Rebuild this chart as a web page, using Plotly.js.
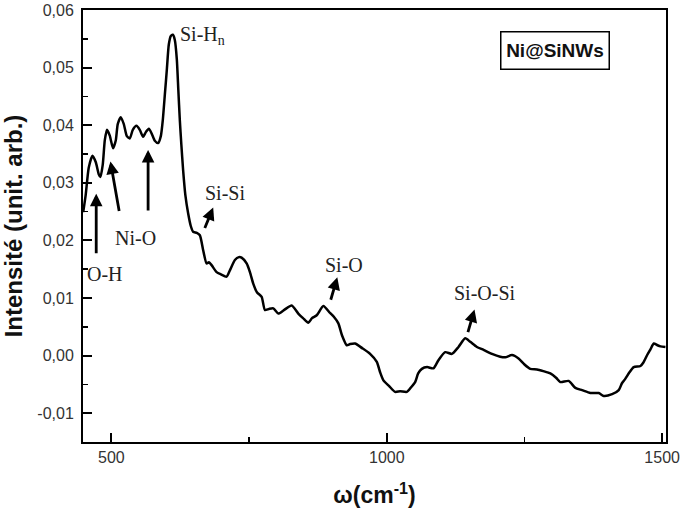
<!DOCTYPE html>
<html>
<head>
<meta charset="utf-8">
<script src="https://cdn.plot.ly/plotly-3.0.1.min.js"></script>
<style>html,body{margin:0;padding:0;background:#fff;}#chart{width:685px;height:515px;}</style>
</head>
<body>
<div id="chart"></div>
<script>
// Wavenumber (cm^-1)
const wavenumber = [448.8,453.3,458.8,465.5,471.5,477,480,484.2,488,492,497,503,508,511.5,517,522.5,528,533.3,538.8,545.5,551.5,557.5,562.5,567.9,573.3,578.8,584.8,589.7,593.3,597,600.6,604.2,607.9,611.5,615.1,618.8,621.5,624.2,627,630.2,634.2,639.3,644.1,648.4,655,660.6,666.6,672.8,677,681.9,691,698.9,709.1,715.1,724.2,731.5,736.4,745.5,751.5,757.5,764.2,772.8,778.8,786.1,793.9,803,813.3,827.3,839.3,847.9,857.5,864.2,872.8,884.8,897,904.2,912.1,918.8,927.4,933.4,942.4,955.2,969.7,981.9,987.9,993.9,1004.3,1015.1,1024.2,1036.4,1044.2,1051.5,1057,1063.7,1073.3,1084.8,1093.8,1106,1118.2,1130.2,1142.4,1151.5,1163.7,1175.7,1191,1206,1215.2,1227.3,1239.3,1249.6,1260.6,1272.8,1284.2,1297,1307.9,1315.1,1330.2,1342.4,1354.6,1369.7,1384.8,1393.9,1409.1,1421.2,1427,1433.3,1440.6,1448.4,1460.6,1466,1472.8,1478.8,1484.8,1491.5,1497,1506];
// Intensity (arb. units)
const intensity = [0.0249,0.0279,0.0326,0.0347,0.0336,0.0315,0.0310,0.0331,0.0374,0.0392,0.0382,0.0360,0.0374,0.0402,0.0414,0.0402,0.0381,0.0377,0.0392,0.0399,0.0392,0.0380,0.0388,0.0394,0.0385,0.0373,0.0369,0.0381,0.0409,0.0453,0.0496,0.0540,0.0555,0.0557,0.0548,0.0514,0.0461,0.0409,0.0366,0.0322,0.0279,0.0247,0.0225,0.0215,0.0213,0.0209,0.0183,0.0160,0.0162,0.0157,0.0145,0.0141,0.0137,0.0148,0.0166,0.0171,0.0170,0.0160,0.0145,0.0125,0.0110,0.0102,0.0079,0.0081,0.0082,0.0073,0.0079,0.0087,0.0073,0.0065,0.0057,0.0065,0.0070,0.0086,0.0074,0.0067,0.0056,0.0035,0.0018,0.0020,0.0021,0.0013,0.0003,-0.0011,-0.0029,-0.0043,-0.0053,-0.0063,-0.0062,-0.0063,-0.0055,-0.0046,-0.0031,-0.0023,-0.0020,-0.0022,-0.0008,0.0006,0.0003,0.0015,0.0030,0.0024,0.0015,0.0010,0.0003,-0.0002,-0.0003,0.0001,-0.0005,-0.0015,-0.0023,-0.0024,-0.0027,-0.0031,-0.0039,-0.0046,-0.0044,-0.0056,-0.0060,-0.0065,-0.0065,-0.0070,-0.0067,-0.0060,-0.0048,-0.0040,-0.0029,-0.0020,-0.0018,-0.0012,0.0001,0.0011,0.0021,0.0018,0.0016,0.0015];

const xTickVals = [500, 1000, 1500];
const xTickText = ['500', '1000', '1500'];
const yTickVals = [-0.01, 0, 0.01, 0.02, 0.03, 0.04, 0.05, 0.06];
const yTickText = ['-0,01', '0,00', '0,01', '0,02', '0,03', '0,04', '0,05', '0,06'];

// Band labels
const bandLabels = ['O-H', 'Ni-O', 'Si-Si', 'Si-O', 'Si-O-Si'];

const serif = {family: 'Liberation Serif, Times New Roman, serif', size: 20, color: '#222'};

const trace = {
  x: wavenumber, y: intensity, type: 'scatter', mode: 'lines',
  line: {color: '#000', width: 2.5, shape: 'spline', smoothing: 0.6},
  hoverinfo: 'skip'
};

function arrow(x, y, ax, ay) {
  return {x: x, y: y, xref: 'x', yref: 'y', ax: ax, ay: ay, axref: 'pixel', ayref: 'pixel',
    text: '', showarrow: true, arrowhead: 2, arrowsize: 0.9, arrowwidth: 2.8, arrowcolor: '#000'};
}
function label(txt, x, y) {
  return {x: x, y: y, xref: 'x', yref: 'y', text: txt, showarrow: false, font: serif,
    xanchor: 'center', yanchor: 'middle'};
}

const annotations = [
  // arrows
  arrow(472.4, 0.0281, 0, 61),
  arrow(498.2, 0.0337, 9, 51),
  arrow(566.6, 0.0357, 0, 62),
  arrow(684.8, 0.0257, -9, 22),
  arrow(910.2, 0.0136, -7, 24),
  arrow(1159.3, 0.0080, -7, 24),
  // labels
  label(bandLabels[0], 488, 0.0141),
  label(bandLabels[1], 544, 0.0204),
  label(bandLabels[2], 706, 0.0282),
  label(bandLabels[3], 922, 0.0157),
  label(bandLabels[4], 1179, 0.0108),
  {x: 620, y: 0.0555, xref: 'x', yref: 'y', text: 'Si-H<sub>n</sub>', showarrow: false,
   font: serif, xanchor: 'left', yanchor: 'middle'},
  {x: 1306, y: 0.0530, xref: 'x', yref: 'y', text: '<b>Ni@SiNWs</b>', showarrow: false,
   font: {family: 'Arial, Liberation Sans, sans-serif', size: 19, color: '#111'},
   bordercolor: '#000', borderwidth: 1.5, borderpad: 0, width: 107, height: 36,
   xanchor: 'center', yanchor: 'middle'}
];

const layout = {
  width: 685, height: 515,
  margin: {l: 83, r: 19, t: 10, b: 73},
  paper_bgcolor: '#fff', plot_bgcolor: '#fff',
  showlegend: false,
  xaxis: {
    range: [448.4, 1507], tickmode: 'array', tickvals: xTickVals, ticktext: xTickText,
    ticks: 'inside', ticklen: 9, tickwidth: 2, tickcolor: '#000',
    minor: {tick0: 250, dtick: 250, ticks: 'inside', ticklen: 5, tickwidth: 1.5, tickcolor: '#000'},
    showline: true, linewidth: 2, linecolor: '#000', mirror: true,
    showgrid: false, zeroline: false,
    tickfont: {family: 'Arial, Liberation Sans, sans-serif', size: 16, color: '#333'},
    title: {text: '<b>ω(cm<sup>-1</sup>)</b>', font: {family: 'Arial, Liberation Sans, sans-serif', size: 23, color: '#111'}, standoff: 22}
  },
  yaxis: {
    range: [-0.015, 0.06], tickmode: 'array', tickvals: yTickVals, ticktext: yTickText,
    ticks: 'inside', ticklen: 9, tickwidth: 2, tickcolor: '#000',
    minor: {tick0: 0, dtick: 0.005, ticks: 'inside', ticklen: 5, tickwidth: 1.5, tickcolor: '#000'},
    showline: true, linewidth: 2, linecolor: '#000', mirror: true,
    showgrid: false, zeroline: false,
    tickfont: {family: 'Arial, Liberation Sans, sans-serif', size: 16, color: '#333'},
    ticklabelstandoff: 4,
    title: {text: '<b>Intensité (unit. arb.)</b>', font: {family: 'Arial, Liberation Sans, sans-serif', size: 24, color: '#111'}, standoff: 8}
  },
  annotations: annotations
};

Plotly.newPlot('chart', [trace], layout, {displayModeBar: false, staticPlot: true});
</script>
</body>
</html>
